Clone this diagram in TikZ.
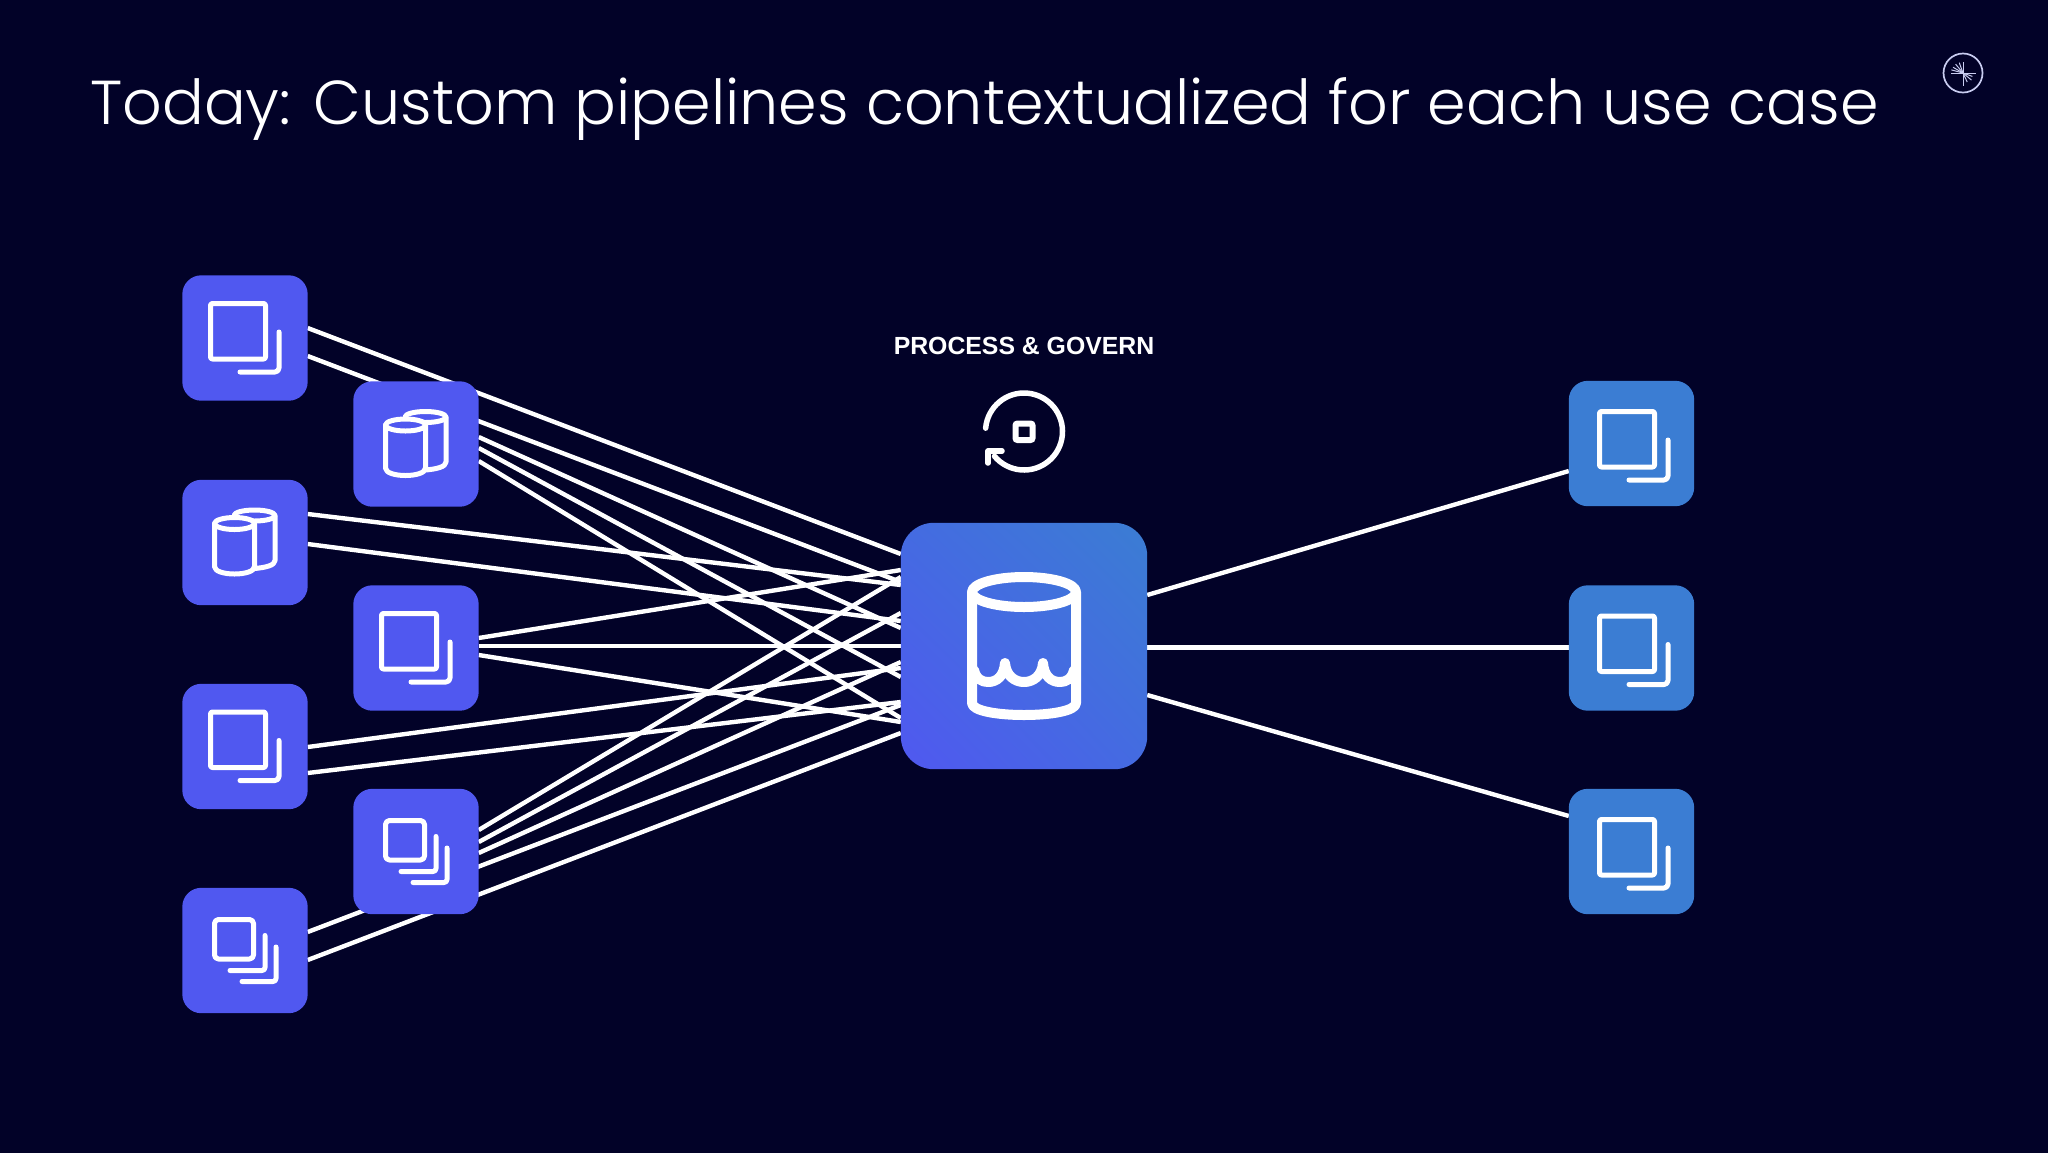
\documentclass[tikz,border=0pt]{standalone}
\usepackage{fontspec}
\setmainfont{Poppins Light}
\newfontfamily\labfont{Liberation Sans}
\usetikzlibrary{calc,shadings}
\definecolor{bgnavy}{RGB}{2,2,40}
\definecolor{violetbox}{RGB}{80,88,240}
\definecolor{bluebox}{RGB}{59,125,211}
\definecolor{hubmid}{RGB}{68,107,225}
\definecolor{logoline}{RGB}{200,204,240}
\tikzset{
  tile/.style={draw=none,minimum size=125pt,inner sep=0pt},
  wire/.style={draw=white,line width=4.4pt},
  ico/.style={draw=white,line width=5pt,line cap=round,line join=round},
  docpair/.pic={
    \draw[ico,rounded corners=2pt] (-34.5,-34.5) rectangle (20.5,21);
    \draw[ico,rounded corners=4pt] (34,-6) -- (34,34) -- (-5,34);
  },
  doctriple/.pic={
    \draw[ico,rounded corners=4pt] (-30.5,-31) rectangle (8.5,8.5);
    \draw[ico,rounded corners=3pt] (20,-15) -- (20,20) -- (-15,20);
    \draw[ico,rounded corners=3pt] (31,-3.5) -- (31,31) -- (-3,31);
  },
  cyls/.pic={
    \draw[ico] (9.5,-27) ellipse[x radius=20.5pt,y radius=5.5pt];
    \draw[ico] (30,-27) -- (30,18) .. controls (30,23) and (20,25) .. (10,26);
    \draw[ico,fill=violetbox] (-30.5,-19) -- (-30.5,24) .. controls (-30.5,34) and (9.5,34) .. (9.5,24) -- (9.5,-19);
    \draw[ico,fill=violetbox] (-10.5,-19) ellipse[x radius=20pt,y radius=6pt];
  },
}
\begin{document}
\begin{tikzpicture}[x=1pt,y=-1pt]
\useasboundingbox (0,0) rectangle (2048,1152);
\fill[bgnavy] (-3,-3) rectangle (2051,1155);

\node[anchor=base west,text=white,font=\fontsize{62}{70}\selectfont,inner sep=0pt] (title) at (90,124) {Today: Custom pipelines contextualized for each use case};
\node[text=white,font=\labfont\bfseries\fontsize{24.8}{30}\selectfont,inner sep=0pt] (label) at (1024,346) {PROCESS \& GOVERN};

\node[tile] (a) at (245,338) {};
\node[tile] (b) at (245,542.5) {};
\node[tile] (c) at (245,746.5) {};
\node[tile] (d) at (245,950.5) {};
\node[tile] (e) at (416,444) {};
\node[tile] (f) at (416,648) {};
\node[tile] (g) at (416,851.5) {};
\node[tile] (r) at (1631.5,443.5) {};
\node[tile] (s) at (1631.5,648) {};
\node[tile] (t) at (1631.5,851.5) {};
\node[tile,minimum size=246pt] (hub) at (1024,646) {};

\foreach \s/\p/\q in {a/-10/-92,a/18/-64,b/-28.5/-61,b/1.5/-25,c/0.5/22,c/26.5/56,d/-18.5/59,d/9.5/87,
  e/-7/-18,e/4/31,e/17/72,f/-10/-76,f/-2/0,f/7/76,g/-21.5/-69,g/-9.5/-33,g/1.5/16}
  \draw[wire] ($(\s.east)+(0,\p)$) -- ($(hub.west)+(0,\q)$);
\draw[wire] ($(hub.east)+(0,-51)$) -- ($(r.west)+(0,27.5)$);
\draw[wire] ($(hub.east)+(0,1.5)$) -- ($(s.west)+(0,-0.5)$);
\draw[wire] ($(hub.east)+(0,49)$) -- ($(t.west)+(0,-35.5)$);

\foreach \n in {a,b,c,d,e,f,g} \fill[violetbox,rounded corners=19pt] (\n.south west) rectangle (\n.north east);
\foreach \n in {r,s,t} \fill[bluebox,rounded corners=19pt] (\n.south west) rectangle (\n.north east);
\shade[rounded corners=33pt,lower left=violetbox,upper right=bluebox,upper left=hubmid,lower right=hubmid,shading=bilinear interpolation] (hub.south west) rectangle (hub.north east);

\pic at (a) {docpair};
\pic at (b) {cyls};
\pic at (c) {docpair};
\pic at (d) {doctriple};
\pic at (e) {cyls};
\pic at (g) {doctriple};
\pic at ($(r)+(2.5,2.5)$) {docpair};
\pic at ($(s)+(2.5,2.5)$) {docpair};
\pic at ($(t)+(2.5,2.5)$) {docpair};
\pic at (f) {docpair};

% hub icon
\begin{scope}[shift={(hub)},draw=white,line width=10pt,line join=round,line cap=round]
  \draw (0,-54) ellipse[x radius=52pt,y radius=15pt];
  \draw (-52,-54) -- (-52,57) .. controls (-52,73) and (52,73) .. (52,57) -- (52,-54);
  \draw (-50,24) .. controls (-48,33) and (-42,36) .. (-36,36) .. controls (-27,36) and (-20,30) .. (-19,17)
    .. controls (-18,30) and (-9,36) .. (0,36) .. controls (9,36) and (18,30) .. (19,17)
    .. controls (20,30) and (27,36) .. (36,36) .. controls (42,36) and (48,33) .. (50,24);
\end{scope}

% process icon
\coordinate (proc) at (1024,431.5);
\draw[white,line width=5.5pt,line cap=round,line join=round] ($(proc)+(175:38.5pt)$) arc[start angle=175,end angle=-140,radius=38.5pt];
\draw[white,line width=5.5pt,line cap=round,line join=round] (988,463) -- (988,451) -- (1002,451);
\draw[white,line width=6pt,rounded corners=2pt] (1015.5,423.5) rectangle (1032.5,440);

% logo
\coordinate (logo) at (1963,73);
\draw[logoline,line width=1.7pt] (logo) circle[radius=19.5pt];
\foreach \ang/\len in {0/12.5,-90/12.5,90/11,180/12,110/11,130/11.5,150/11.5,165/12,-20/10,-40/11,-65/10}
  \draw[logoline,line width=1pt] (logo) -- ($(logo)+(\ang:\len pt)$);
\end{tikzpicture}
\end{document}
